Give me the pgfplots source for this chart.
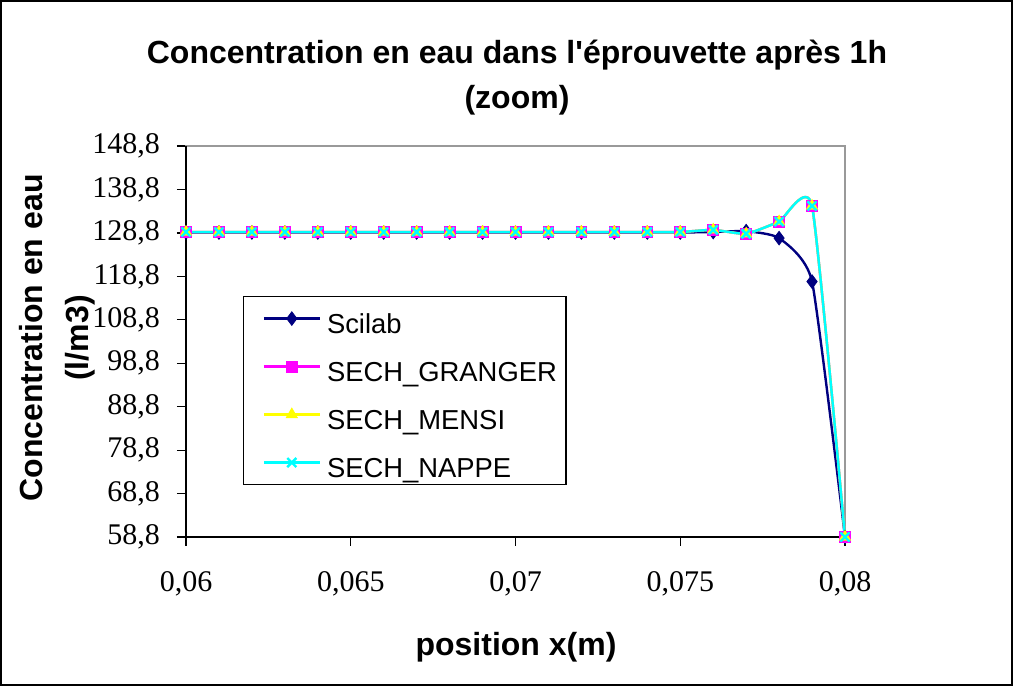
\documentclass[border=0pt]{standalone}
\usepackage{fontspec}
\setmainfont{Liberation Sans}
\newfontfamily\tickfont{Liberation Serif}
\usepackage{pgfplots}
\usepackage{pgfplotstable}
\pgfplotsset{compat=1.18}
\definecolor{navyx}{RGB}{0,0,128}
\definecolor{magx}{RGB}{255,0,255}
\definecolor{yelx}{RGB}{255,255,0}
\definecolor{cyanx}{RGB}{0,255,255}

\pgfplotstableread{
x scilab granger mensi nappe
0.060 128.9 129.0 129.0 129.0
0.061 128.9 129.0 129.0 129.0
0.062 128.9 129.0 129.0 129.0
0.063 128.9 129.0 129.0 129.0
0.064 128.9 129.0 129.0 129.0
0.065 128.9 129.0 129.0 129.0
0.066 128.9 129.0 129.0 129.0
0.067 128.9 129.0 129.0 129.0
0.068 128.9 129.0 129.0 129.0
0.069 128.9 129.0 129.0 129.0
0.070 128.9 129.0 129.0 129.0
0.071 128.9 129.0 129.0 129.0
0.072 128.9 129.0 129.0 129.0
0.073 128.9 129.0 129.0 129.0
0.074 128.9 129.0 129.0 129.0
0.075 128.9 129.0 129.0 129.0
0.076 129.0 129.5 129.5 129.5
0.077 129.2 128.6 128.6 128.6
0.078 127.6 131.4 131.4 131.4
0.079 117.6 135.0 135.0 135.0
0.080 58.8 58.8 58.8 58.8
}\data

\begin{document}
\begin{tikzpicture}
\draw[line width=0.8pt] (0.4pt,0.4pt) rectangle (506.1pt,342.6pt);
\begin{axis}[
  at={(93pt,74.5pt)}, anchor=south west,
  scale only axis, width=329.5pt, height=195.5pt,
  xmin=0.06, xmax=0.08, ymin=58.8, ymax=148.8,
  scaled x ticks=false, scaled y ticks=false,
  xtick={0.06,0.065,0.07,0.075,0.08},
  xticklabels={{0,06},{0,065},{0,07},{0,075},{0,08}},
  ytick={58.8,68.8,78.8,88.8,98.8,108.8,118.8,128.8,138.8,148.8},
  yticklabels={{58,8},{68,8},{78,8},{88,8},{98,8},{108,8},{118,8},{128,8},{138,8},{148,8}},
  tick pos=left, tick align=outside, major tick length=4.5pt,
  tick style={black, line width=0.6pt},
  axis line style={draw=gray!80, line width=0.8pt},
  ticklabel style={font=\tickfont\fontsize{15}{17}\selectfont},
  xticklabel style={yshift=-9pt},
  yticklabel style={xshift=-5pt},
  clip=false,
  legend cell align=left,
  legend style={at={(0.0865,0.616)}, anchor=north west, draw=black, line width=0.6pt,
    font=\fontsize{13.7}{16}\selectfont, inner xsep=2.5pt, inner ysep=1.5pt, row sep=5.2pt,
    nodes={inner sep=2pt, text height=14.8pt, text depth=0pt}},
  legend image code/.code={\path (0pt,0pt) (36pt,0pt); \draw[mark repeat=2,mark phase=2] plot coordinates {(7pt,0pt)(21pt,0pt)(35pt,0pt)};},
]
\draw[black, line width=0.8pt] (rel axis cs:0,1) -- (rel axis cs:0,0) -- (rel axis cs:1,0);
\addplot[navyx, line width=1.2pt, smooth, tension=0.3, mark=diamond*, mark size=3.4pt, mark options={solid, fill=navyx, line width=0.4pt}] table[x=x,y=scilab]{\data};
\addlegendentry{Scilab}
\addplot[magx, line width=1.2pt, smooth, tension=0.3, mark=square*, mark size=2.7pt, mark options={solid, fill=magx, line width=0.4pt}] table[x=x,y=granger]{\data};
\addlegendentry{SECH\_GRANGER}
\addplot[yelx, line width=1.2pt, smooth, tension=0.3, mark=triangle*, mark size=3.2pt, mark options={solid, fill=yelx, line width=0.4pt}] table[x=x,y=mensi]{\data};
\addlegendentry{SECH\_MENSI}
\addplot[cyanx, line width=1.2pt, smooth, tension=0.3, mark=x, mark size=3.2pt, mark options={solid, line width=1.2pt}] table[x=x,y=nappe]{\data};
\addlegendentry{SECH\_NAPPE}
\end{axis}
\node[anchor=base, font=\bfseries\fontsize{16}{18}\selectfont] at (258.5pt,311pt) {Concentration en eau dans l\textquotesingle éprouvette après 1h};
\node[anchor=base, font=\bfseries\fontsize{16}{18}\selectfont] at (258.5pt,288.5pt) {(zoom)};
\node[anchor=base, rotate=90, font=\bfseries\fontsize{16}{18}\selectfont] at (21pt,174pt) {Concentration en eau};
\node[anchor=base, rotate=90, font=\bfseries\fontsize{16}{18}\selectfont] at (44pt,174pt) {(l/m3)};
\node[anchor=base, font=\bfseries\fontsize{16}{18}\selectfont] at (258pt,15.5pt) {position x(m)};
\end{tikzpicture}
\end{document}
